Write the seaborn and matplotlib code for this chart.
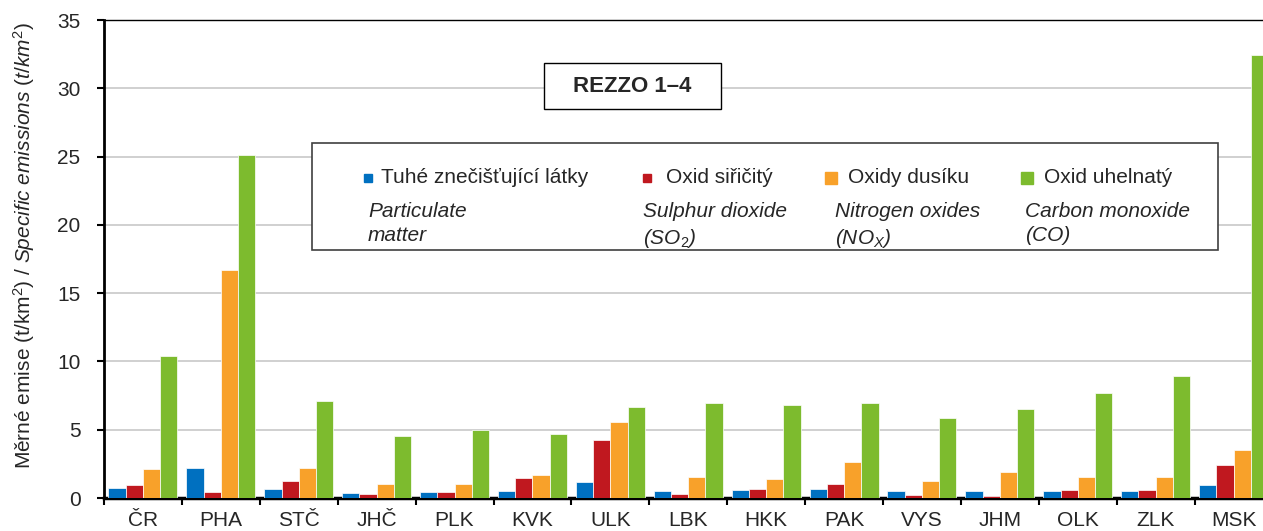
import numpy as np
import pandas as pd
import matplotlib
matplotlib.use("Agg")
import matplotlib.pyplot as plt
from matplotlib.patches import Rectangle
import seaborn as sns

# Data (t/km2)
regions = ["ČR", "PHA", "STČ", "JHČ", "PLK", "KVK", "ULK", "LBK",
           "HKK", "PAK", "VYS", "JHM", "OLK", "ZLK", "MSK"]
tzl = [0.71, 2.2, 0.66, 0.34, 0.42, 0.54, 1.15, 0.54, 0.59, 0.69, 0.49, 0.49, 0.49, 0.54, 0.98]
so2 = [0.98, 0.47, 1.23, 0.29, 0.44, 1.47, 4.24, 0.32, 0.66, 1.05, 0.25, 0.15, 0.61, 0.61, 2.43]
nox = [2.16, 16.7, 2.2, 1.05, 1.05, 1.72, 5.56, 1.52, 1.40, 2.6, 1.27, 1.91, 1.54, 1.57, 3.48]
co = [10.4, 25.1, 7.08, 4.53, 4.95, 4.68, 6.64, 6.94, 6.79, 6.94, 5.86, 6.54, 7.67, 8.9, 32.44]

series_cz = ["Tuhé znečišťující látky", "Oxid siřičitý", "Oxidy dusíku", "Oxid uhelnatý"]
series_en = ["Particulate\nmatter", "Sulphur dioxide\n(SO$_2$)",
             "Nitrogen oxides\n(NO$_X$)", "Carbon monoxide\n(CO)"]
COLORS = ["#0070C0", "#C0181F", "#F8A12A", "#7DBB2E"]

df = pd.DataFrame({
    "region": regions * 4,
    "pollutant": np.repeat(series_cz, len(regions)),
    "value": tzl + so2 + nox + co,
})

sns.set_theme(style="white")
plt.rcParams["font.family"] = ["Liberation Sans", "DejaVu Sans"]
plt.rcParams["mathtext.fontset"] = "custom"
plt.rcParams["mathtext.rm"] = "Liberation Sans"
plt.rcParams["mathtext.it"] = "Liberation Sans:italic"
plt.rcParams["mathtext.bf"] = "Liberation Sans:bold"

W, H = 1263, 531
fig = plt.figure(figsize=(W / 100, H / 100), dpi=100)
ax = fig.add_axes([104 / W, 33 / H, 1168.5 / W, 478 / H])

sns.barplot(data=df, x="region", y="value", hue="pollutant",
            order=regions, hue_order=series_cz, palette=COLORS, saturation=1,
            width=0.885, gap=0, edgecolor="white", linewidth=0.5,
            legend=False, ax=ax, zorder=3)

ax.set_xlim(-0.5, 14.5)
ax.set_ylim(0, 35)
ax.set_yticks(np.arange(0, 36, 5))
ax.set_axisbelow(True)
ax.yaxis.grid(True, color="#C8C8C8", linewidth=1.2)
ax.xaxis.grid(False)

ax.set_xticks(np.arange(-0.5, 15, 1), minor=True)
ax.tick_params(axis="x", which="major", length=0, pad=9, labelsize=15)
ax.tick_params(axis="x", which="minor", length=5, width=1.5, direction="out",
               bottom=True, color="black")
ax.tick_params(axis="y", length=5, width=1.5, direction="out", left=True,
               pad=12, labelsize=15, color="black")

ax.set_xlabel("")
ax.set_ylabel("Měrné emise (t/km$^\\mathrm{2}$) / $\\mathit{Specific\\ emissions\\ (t/km^2)}$",
              fontsize=15)
ax.yaxis.set_label_coords((37 - 104) / 1168.5, (498 - 245) / 478)

for side in ["left", "bottom", "top"]:
    ax.spines[side].set_color("black")
ax.spines["left"].set_linewidth(2)
ax.spines["bottom"].set_linewidth(2.5)
ax.spines["top"].set_linewidth(1)
ax.spines["right"].set_visible(False)


def axx(px):
    return (px - 104) / 1168.5


def axy(py):
    return (498 - py) / 478


# REZZO label box
ax.add_patch(Rectangle((axx(544), axy(109)), axx(721) - axx(544), axy(63) - axy(109),
                       transform=ax.transAxes, facecolor="white", edgecolor="black",
                       linewidth=1, zorder=5, clip_on=False))
ax.text(axx(632.5), axy(86), "REZZO 1–4", transform=ax.transAxes, ha="center",
        va="center", fontsize=16, fontweight="bold", zorder=6)

# Legend box
ax.add_patch(Rectangle((axx(312), axy(250)), axx(1218) - axx(312), axy(143) - axy(250),
                       transform=ax.transAxes, facecolor="white", edgecolor="#404040",
                       linewidth=1.2, zorder=5, clip_on=False))
sq_x = [368, 647, 831, 1027]
sq_size = [6, 6, 8, 8]
txt_x = [381, 666, 848, 1044]
en_x = [368, 643, 835, 1025]
for i in range(4):
    ax.plot([axx(sq_x[i])], [axy(178)], marker="s", markersize=sq_size[i],
            color=COLORS[i], transform=ax.transAxes, zorder=6, clip_on=False)
    ax.text(axx(txt_x[i]), axy(177), series_cz[i], transform=ax.transAxes,
            ha="left", va="center", fontsize=15, zorder=6)
    ax.text(axx(en_x[i]), axy(202), series_en[i], transform=ax.transAxes,
            ha="left", va="top", fontsize=15, style="italic", linespacing=1.35,
            zorder=6)

fig.savefig("out.png", dpi=100)
